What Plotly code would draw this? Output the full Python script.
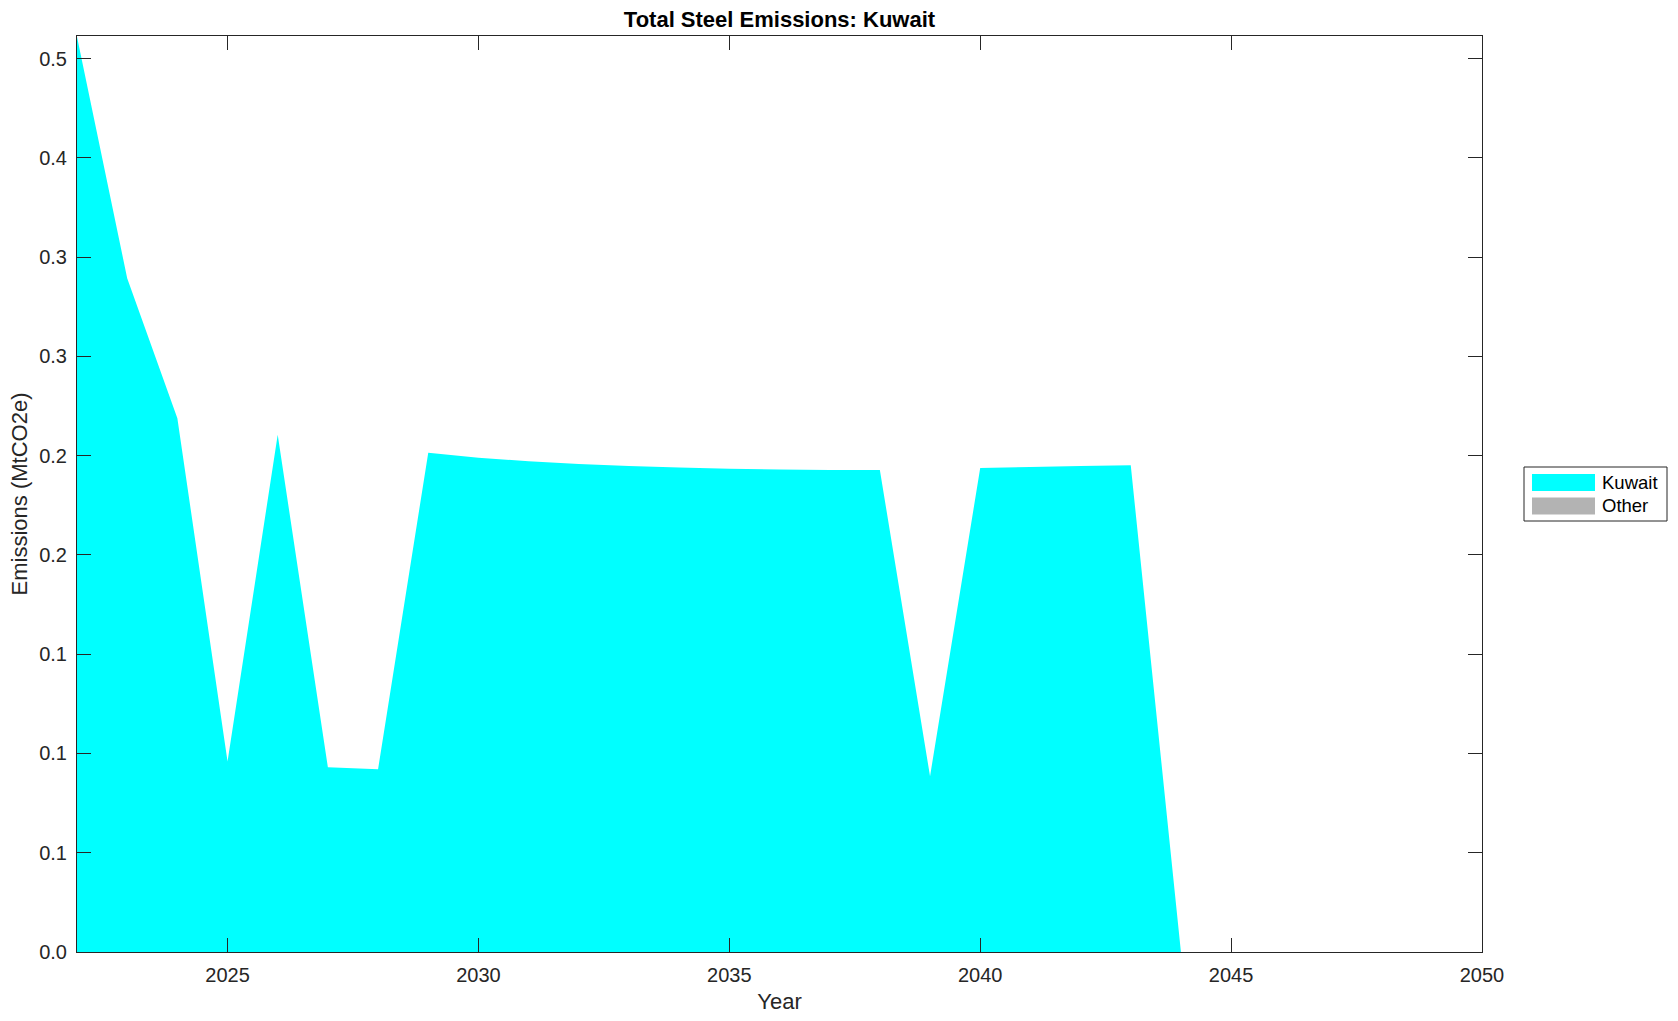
import plotly.graph_objects as go

# values (MtCO2e)
years = list(range(2022, 2051))
kuwait = [0.461, 0.3394, 0.2689, 0.0960, 0.2605, 0.0930, 0.0921, 0.2515,
          0.2490, 0.2472, 0.2458, 0.2448, 0.2440, 0.2434, 0.2430, 0.2428,
          0.2428, 0.0885, 0.2438, 0.2443, 0.2448, 0.2452, 0.0,
          0.0, 0.0, 0.0, 0.0, 0.0, 0.0]
other = [0.0] * len(years)

series_names = ["Kuwait", "Other"]
series_colors = ["#00FFFF", "#B3B3B3"]

ytick_vals = [0, 0.05, 0.10, 0.15, 0.20, 0.25, 0.30, 0.35, 0.40, 0.45]
ytick_text = ["0.0", "0.1", "0.1", "0.1", "0.2", "0.2", "0.3", "0.3", "0.4", "0.5"]
xtick_vals = [2025, 2030, 2035, 2040, 2045, 2050]

W, H = 1678, 1021
L, R, T, B = 77, 196, 36, 69

fig = go.Figure()
for name, vals, col in zip(series_names, [kuwait, other], series_colors):
    fig.add_trace(go.Scatter(x=years, y=vals, name=name, stackgroup="one",
                             mode="none", fillcolor=col, showlegend=False))

axis_style = dict(showline=True, linecolor="#262626", linewidth=1, mirror="ticks",
                  ticks="inside", ticklen=14, tickcolor="#262626", showgrid=False,
                  zeroline=False, automargin=False,
                  tickfont=dict(size=20, color="#262626"))


# legend box drawn by hand (MATLAB style: wide swatches)
def px(x):
    return (x - L) / (W - L - R)


def py(y):
    return (H - B - y) / (H - T - B)


shapes = [dict(type="rect", xref="paper", yref="paper",
               x0=px(1524), x1=px(1667), y0=py(521), y1=py(467),
               line=dict(color="#262626", width=1), fillcolor="white")]
annotations = []
for i, (name, col) in enumerate(zip(series_names, series_colors)):
    top = 474 + i * 23.5
    shapes.append(dict(type="rect", xref="paper", yref="paper",
                       x0=px(1532), x1=px(1595), y0=py(top + 17), y1=py(top),
                       line=dict(width=0), fillcolor=col))
    annotations.append(dict(text=name, xref="paper", yref="paper",
                            x=px(1600), y=py(top + 8.5), xanchor="left",
                            yanchor="middle", showarrow=False,
                            font=dict(size=18.5, color="black")))

fig.update_layout(
    width=W, height=H,
    margin=dict(l=L, r=R, t=T, b=B),
    paper_bgcolor="white", plot_bgcolor="white",
    font=dict(family="Liberation Sans, Arial, Helvetica", color="#262626"),
    title=dict(text="<b>Total Steel Emissions: Kuwait</b>", xref="paper", x=0.5,
               xanchor="center", yref="container", y=1 - 19 / H, yanchor="middle",
               font=dict(size=22, color="black")),
    xaxis=dict(range=[2022, 2050], tickvals=xtick_vals, ticklabelstandoff=5,
               title=dict(text="Year", font=dict(size=22), standoff=8), **axis_style),
    yaxis=dict(range=[0, 0.4614], tickvals=ytick_vals, ticktext=ytick_text,
               ticklabelstandoff=5,
               title=dict(text="Emissions (MtCO2e)", font=dict(size=22), standoff=5),
               **axis_style),
    shapes=shapes,
    annotations=annotations,
    showlegend=False,
)

fig.write_html("out.html", config={"displayModeBar": False},
               post_script="document.body.style.margin='0';")
